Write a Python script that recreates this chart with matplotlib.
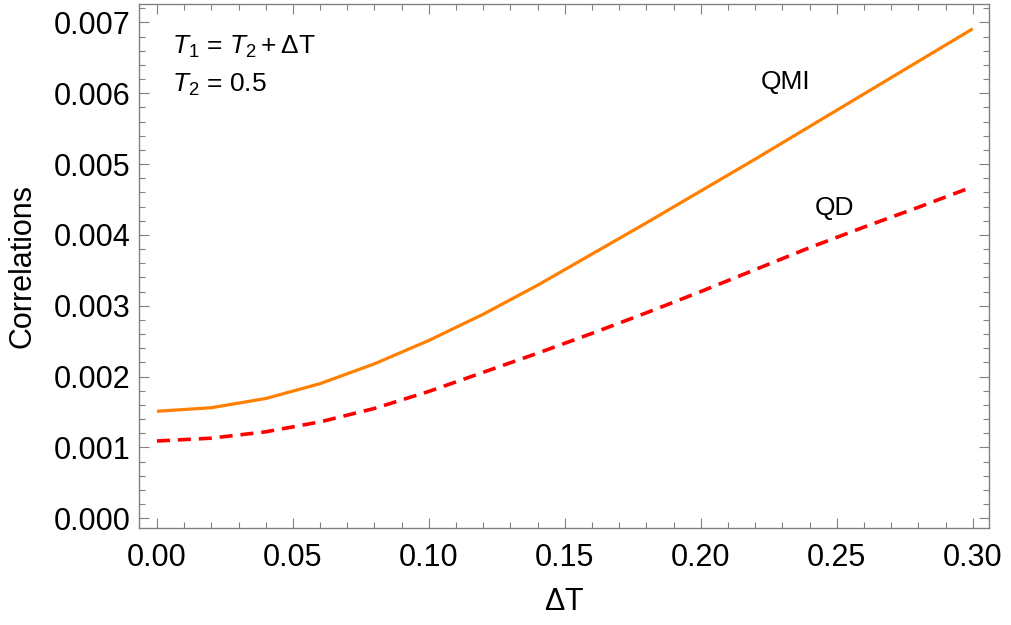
import matplotlib
matplotlib.use("Agg")
import matplotlib.pyplot as plt
from matplotlib.ticker import MultipleLocator, FormatStrFormatter

plt.rcParams['font.family'] = ['Liberation Sans', 'DejaVu Sans']
plt.rcParams['mathtext.fontset'] = 'custom'
plt.rcParams['mathtext.it'] = 'Liberation Sans:italic'
plt.rcParams['mathtext.rm'] = 'Liberation Sans'

# --- datos ---
delta_t = [0.00, 0.02, 0.04, 0.06, 0.08, 0.10, 0.12, 0.14, 0.16,
           0.18, 0.20, 0.22, 0.24, 0.26, 0.28, 0.30]
qmi = [0.00151, 0.00156, 0.00169, 0.00190, 0.00218, 0.00251, 0.00288, 0.00329,
       0.00373, 0.00417, 0.00462, 0.00507, 0.00553, 0.00599, 0.00645, 0.00691]
qd = [0.00109, 0.00113, 0.00122, 0.00136, 0.00155, 0.00179, 0.00206, 0.00233,
      0.00261, 0.00290, 0.00320, 0.00351, 0.00382, 0.00411, 0.00439, 0.00468]

GRIS = '#808080'

fig = plt.figure(figsize=(10.11, 6.25), dpi=100)
ax = fig.add_axes([0.1375, 0.155, 0.8405, 0.8386])

ax.plot(delta_t, qmi, color='#FF8000', lw=2.3, solid_capstyle='butt')
ax.plot(delta_t, qd, color='#FF0000', lw=2.6, dashes=(3.6, 2.2))

ax.set_xlim(-0.0066, 0.3059)
ax.set_ylim(-0.00014, 0.00726)

ax.xaxis.set_major_locator(MultipleLocator(0.05))
ax.xaxis.set_minor_locator(MultipleLocator(0.01))
ax.yaxis.set_major_locator(MultipleLocator(0.001))
ax.yaxis.set_minor_locator(MultipleLocator(0.0002))
ax.xaxis.set_major_formatter(FormatStrFormatter('%.2f'))
ax.yaxis.set_major_formatter(FormatStrFormatter('%.3f'))

for s in ax.spines.values():
    s.set_color(GRIS)
    s.set_linewidth(1.0)

ax.tick_params(which='both', direction='in', top=True, right=True, color=GRIS,
               labelsize=22, width=0.8)
ax.tick_params(which='major', length=7)
ax.tick_params(which='minor', length=4)
ax.tick_params(axis='x', pad=11)
ax.tick_params(axis='y', pad=6)

ax.set_xlabel(r'$\Delta$T', fontsize=22, labelpad=10)
ax.set_ylabel('Correlations', fontsize=22, labelpad=12)

ax.text(0.231, 0.00616, 'QMI', fontsize=19, ha='center', va='center')
ax.text(0.249, 0.00438, 'QD', fontsize=19, ha='center', va='center')

ax.text(0.0055, 0.00665, r'$T_1$ = $T_2 + \Delta$T', fontsize=19, va='center')
ax.text(0.0055, 0.00612, r'$T_2$ = 0.5', fontsize=19, va='center')

fig.savefig('out.png', dpi=100)
